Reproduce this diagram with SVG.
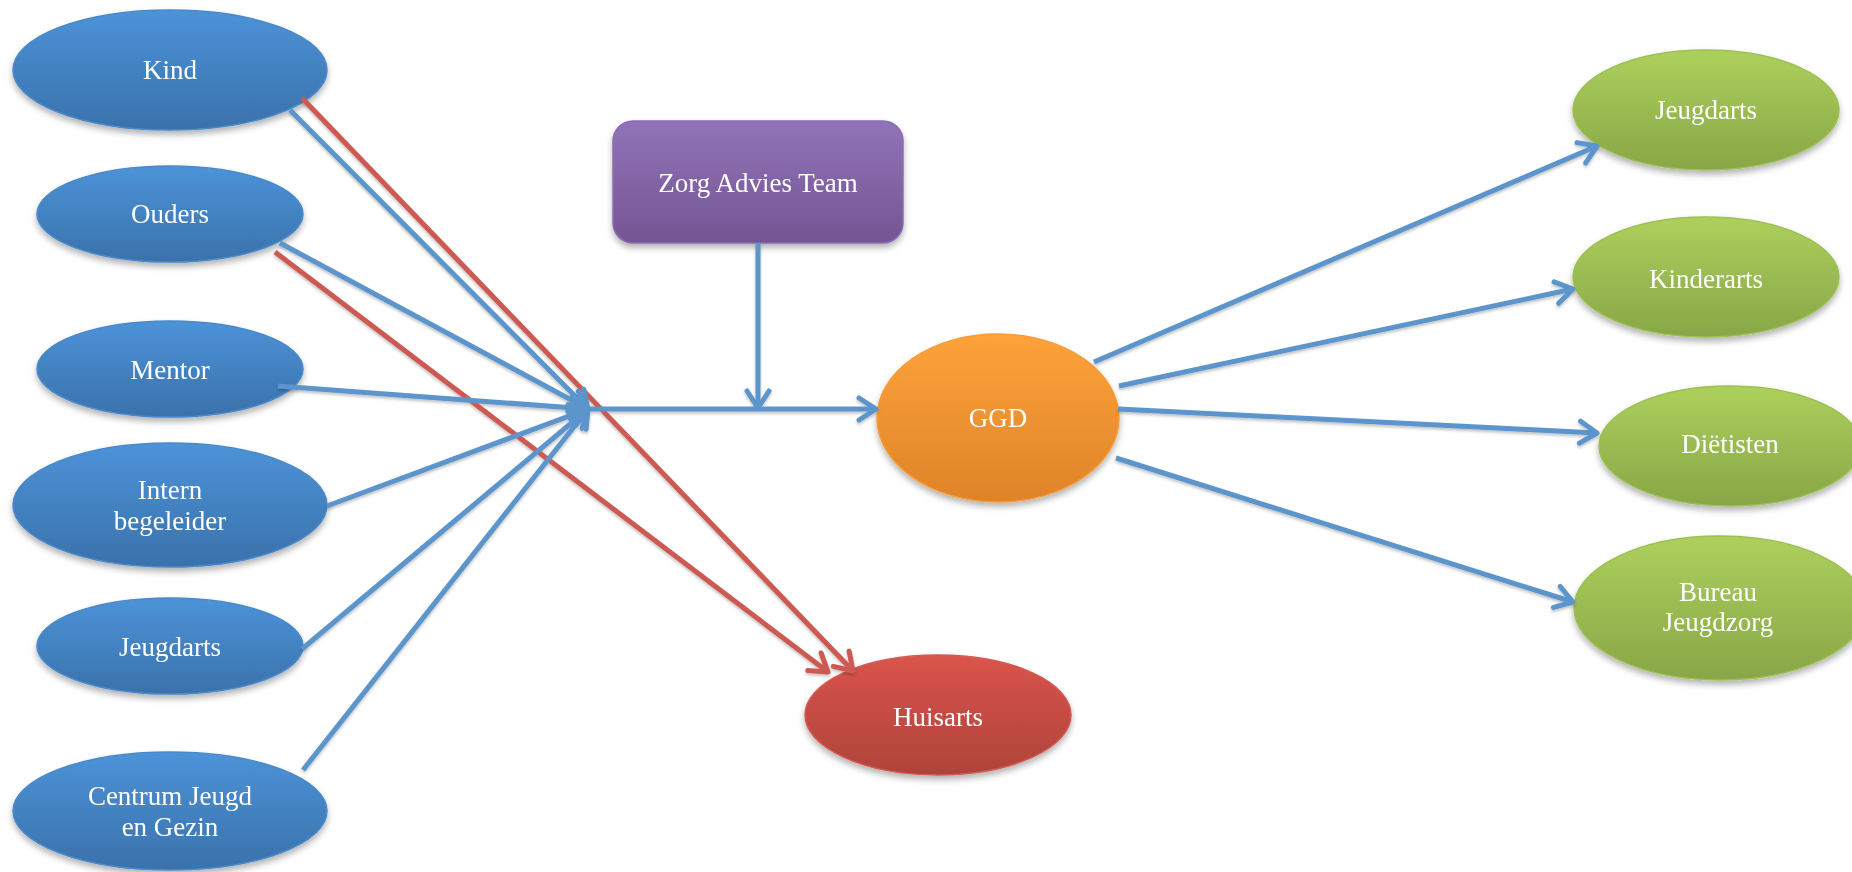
<svg xmlns="http://www.w3.org/2000/svg" width="1852" height="872" viewBox="0 0 1852 872">
<defs>
<linearGradient id="gBlue" x1="0" y1="0" x2="0" y2="1"><stop offset="0" stop-color="#4c93d8"/><stop offset="1" stop-color="#3a71ab"/></linearGradient>
<linearGradient id="gPurple" x1="0" y1="0" x2="0" y2="1"><stop offset="0" stop-color="#9073b8"/><stop offset="1" stop-color="#755694"/></linearGradient>
<linearGradient id="gOrange" x1="0" y1="0" x2="0" y2="1"><stop offset="0" stop-color="#fea33a"/><stop offset="1" stop-color="#df8329"/></linearGradient>
<linearGradient id="gRed" x1="0" y1="0" x2="0" y2="1"><stop offset="0" stop-color="#da544b"/><stop offset="1" stop-color="#ae433b"/></linearGradient>
<linearGradient id="gGreen" x1="0" y1="0" x2="0" y2="1"><stop offset="0" stop-color="#add05c"/><stop offset="1" stop-color="#88a647"/></linearGradient>
<filter id="sh" x="-20%" y="-20%" width="140%" height="150%"><feDropShadow dx="0" dy="4" stdDeviation="3" flood-color="#000" flood-opacity="0.3"/></filter>
<filter id="lsh" x="-10%" y="-10%" width="120%" height="120%"><feDropShadow dx="0" dy="2" stdDeviation="1.5" flood-color="#000" flood-opacity="0.25"/></filter>
<marker id="aB" markerUnits="userSpaceOnUse" viewBox="-24 -14 28 28" refX="0" refY="0" markerWidth="28" markerHeight="28" orient="auto"><path d="M-17,-11 L0,0 L-17,11" fill="none" stroke="#5b95cb" stroke-width="5" stroke-linecap="round" stroke-linejoin="round"/></marker>
<marker id="aR" markerUnits="userSpaceOnUse" viewBox="-24 -14 28 28" refX="0" refY="0" markerWidth="28" markerHeight="28" orient="auto"><path d="M-17,-11 L0,0 L-17,11" fill="none" stroke="#cc5a52" stroke-width="5" stroke-linecap="round" stroke-linejoin="round"/></marker>
</defs>
<style>
.lbl{font-family:"Liberation Serif","Times New Roman",serif;font-size:27px;fill:#ffffff;text-anchor:middle}
.blue{fill:url(#gBlue);stroke:#4a88c9;stroke-width:1.5}
.purple{fill:url(#gPurple);stroke:#8a6cb0;stroke-width:1.5}
.orange{fill:url(#gOrange);stroke:#f59b3a;stroke-width:1.5}
.red{fill:url(#gRed);stroke:#d35a52;stroke-width:1.5}
.green{fill:url(#gGreen);stroke:#9cc052;stroke-width:1.5}
.cb{stroke:#5b95cb;stroke-width:5;fill:none;marker-end:url(#aB)}
.cbn{stroke:#5b95cb;stroke-width:5;fill:none}
.cr{stroke:#cc5a52;stroke-width:5;fill:none;marker-end:url(#aR)}
</style>
<rect width="1852" height="872" fill="#ffffff"/>
<g id="node-kind" filter="url(#sh)"><ellipse class="blue" cx="170" cy="70" rx="157" ry="60"/><text class="lbl" x="170" y="79">Kind</text></g>
<g id="node-ouders" filter="url(#sh)"><ellipse class="blue" cx="170" cy="214" rx="133" ry="48"/><text class="lbl" x="170" y="223">Ouders</text></g>
<g id="node-mentor" filter="url(#sh)"><ellipse class="blue" cx="170" cy="369" rx="133" ry="48"/><text class="lbl" x="170" y="379">Mentor</text></g>
<g id="node-intern" filter="url(#sh)"><ellipse class="blue" cx="170" cy="505" rx="157" ry="62"/><text class="lbl" x="170" y="499">Intern</text><text class="lbl" x="170" y="530">begeleider</text></g>
<g id="node-jeugdarts-l" filter="url(#sh)"><ellipse class="blue" cx="170" cy="646" rx="133" ry="48"/><text class="lbl" x="170" y="656">Jeugdarts</text></g>
<g id="node-cjg" filter="url(#sh)"><ellipse class="blue" cx="170" cy="811" rx="157" ry="59"/><text class="lbl" x="170" y="805">Centrum Jeugd</text><text class="lbl" x="170" y="836">en Gezin</text></g>
<g id="node-zat" filter="url(#sh)"><rect class="purple" x="613" y="121" width="290" height="122" rx="20" ry="20"/><text class="lbl" x="758" y="192">Zorg Advies Team</text></g>
<g id="node-ggd" filter="url(#sh)"><ellipse class="orange" cx="998" cy="418" rx="121" ry="84"/><text class="lbl" x="998" y="427">GGD</text></g>
<g id="node-huisarts" filter="url(#sh)"><ellipse class="red" cx="938" cy="715" rx="133" ry="60"/><text class="lbl" x="938" y="726">Huisarts</text></g>
<g id="node-jeugdarts-r" filter="url(#sh)"><ellipse class="green" cx="1706" cy="110" rx="133" ry="60"/><text class="lbl" x="1706" y="119">Jeugdarts</text></g>
<g id="node-kinderarts" filter="url(#sh)"><ellipse class="green" cx="1706" cy="277" rx="133" ry="60"/><text class="lbl" x="1706" y="288">Kinderarts</text></g>
<g id="node-dietisten" filter="url(#sh)"><ellipse class="green" cx="1730" cy="446" rx="131" ry="60"/><text class="lbl" x="1730" y="453">Diëtisten</text></g>
<g id="node-bureau" filter="url(#sh)"><ellipse class="green" cx="1720" cy="608" rx="146" ry="72"/><text class="lbl" x="1718" y="601">Bureau</text><text class="lbl" x="1718" y="631">Jeugdzorg</text></g>
<g id="connectors" filter="url(#lsh)">
<line class="cr" x1="302" y1="98" x2="853" y2="671"/>
<line class="cr" x1="275" y1="252" x2="828" y2="672"/>
<line class="cb" x1="290" y1="110" x2="588" y2="409"/>
<line class="cb" x1="280" y1="243" x2="588" y2="409"/>
<line class="cb" x1="278" y1="386" x2="588" y2="409"/>
<line class="cb" x1="327" y1="506" x2="588" y2="409"/>
<line class="cb" x1="302" y1="649" x2="588" y2="409"/>
<line class="cb" x1="303" y1="770" x2="588" y2="409"/>
<line class="cb" x1="588" y1="409" x2="876" y2="409"/>
<line class="cb" x1="758" y1="243" x2="758" y2="408"/>
<line class="cb" x1="1094" y1="362" x2="1597" y2="146"/>
<line class="cb" x1="1119" y1="386" x2="1573" y2="289"/>
<line class="cb" x1="1118" y1="409" x2="1597" y2="433"/>
<line class="cb" x1="1116" y1="458" x2="1573" y2="602"/>
</g>
</svg>
